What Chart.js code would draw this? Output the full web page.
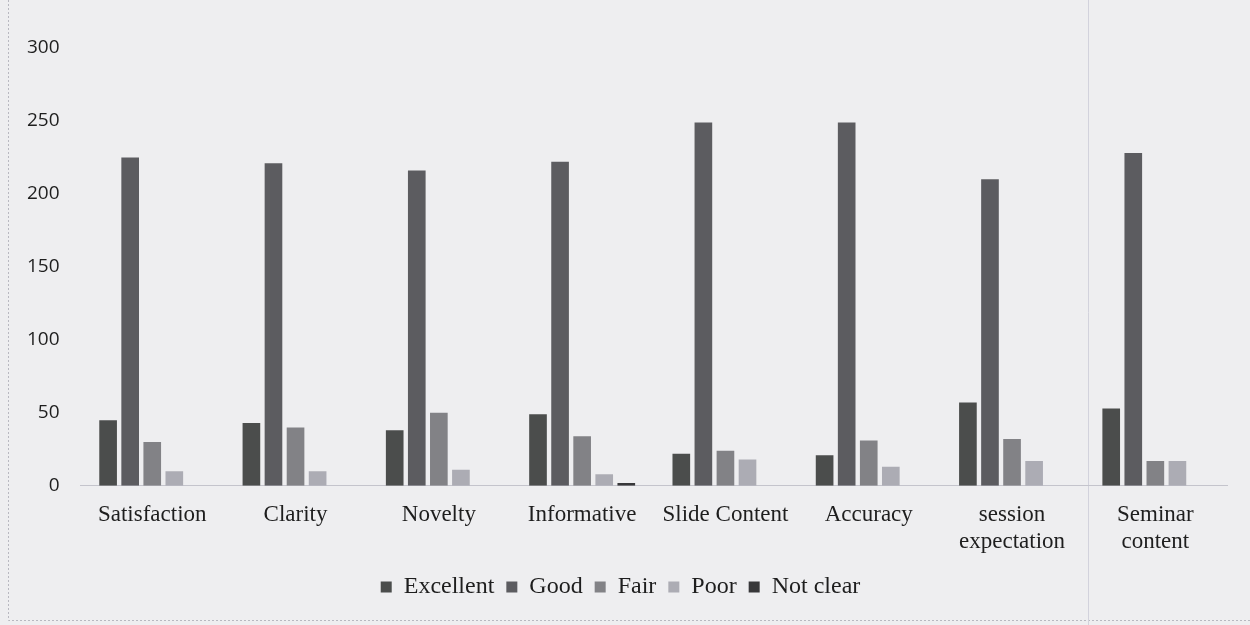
<!DOCTYPE html>
<html>
<head>
<meta charset="utf-8">
<script src="https://cdn.jsdelivr.net/npm/chart.js@4.4.1/dist/chart.umd.min.js"></script>
<style>
  html, body { margin: 0; padding: 0; background: #eeeef0; }
  #wrap { width: 1250px; height: 625px; }
</style>
</head>
<body>
<div id="wrap"><canvas id="chart" width="1250" height="625"></canvas></div>
<script>
  // Categories and series
  const categories = [
    "Satisfaction", "Clarity", "Novelty", "Informative", "Slide Content",
    "Accuracy", ["session", "expectation"], ["Seminar", "content"]
  ];
  const excellent = [45, 43, 38, 49, 22, 21, 57, 53];
  const good      = [225, 221, 216, 222, 249, 249, 210, 228];
  const fair      = [30, 40, 50, 34, 24, 31, 32, 17];
  const poor      = [10, 10, 11, 8, 18, 13, 17, 17];
  const notClear  = [0, 0, 0, 2, 0, 0, 0, 0];
  const yTicks    = [0, 50, 100, 150, 200, 250, 300];

  const paper = {
    id: "paper",
    beforeDraw(chart) {
      const { ctx, width, height } = chart;
      ctx.save();
      ctx.fillStyle = "#eeeef0";
      ctx.fillRect(0, 0, width, height);
      // faint dotted frame of the scanned figure
      ctx.strokeStyle = "#b8b8c0";
      ctx.setLineDash([2, 2]);
      ctx.lineWidth = 1;
      ctx.beginPath();
      ctx.moveTo(8.5, 0);
      ctx.lineTo(8.5, 620.5);
      ctx.lineTo(width, 620.5);
      ctx.stroke();
      ctx.setLineDash([]);
      ctx.strokeStyle = "#d2d2dc";
      ctx.beginPath();
      ctx.moveTo(1088.5, 0);
      ctx.lineTo(1088.5, height);
      ctx.stroke();
      ctx.restore();
    }
  };

  const serif = "'Liberation Serif', 'DejaVu Serif', serif";

  new Chart(document.getElementById("chart"), {
    type: "bar",
    data: {
      labels: categories,
      datasets: [
        { label: "Excellent", data: excellent, backgroundColor: "#4b4d4c" },
        { label: "Good",      data: good,      backgroundColor: "#5c5c60" },
        { label: "Fair",      data: fair,      backgroundColor: "#828286" },
        { label: "Poor",      data: poor,      backgroundColor: "#acacb4" },
        { label: "Not clear", data: notClear,  backgroundColor: "#38383a" }
      ]
    },
    options: {
      responsive: false,
      animation: false,
      devicePixelRatio: 1,
      layout: { padding: { left: 14, right: 23, top: 48, bottom: 16 } },
      datasets: { bar: { categoryPercentage: 0.77, barPercentage: 0.8 } },
      scales: {
        x: {
          grid: { display: false },
          border: { color: "#c4c4cc", dash: [3, 2] },
          ticks: {
            color: "#1e1e1e",
            font: { family: serif, size: 23 },
            maxRotation: 0,
            autoSkip: false,
            padding: 7
          }
        },
        y: {
          min: 0,
          max: 300,
          afterBuildTicks: (axis) => { axis.ticks = yTicks.map(v => ({ value: v })); },
          grid: { display: false },
          border: { display: false },
          ticks: {
            color: "#1e1e1e",
            font: { family: "'Open Sans', 'Liberation Sans', sans-serif", size: 19 },
            padding: 13
          }
        }
      },
      plugins: {
        tooltip: { enabled: false },
        legend: {
          position: "bottom",
          labels: {
            color: "#1e1e1e",
            font: { family: serif, size: 24 },
            boxWidth: 11,
            boxHeight: 11,
            padding: 12
          }
        }
      }
    },
    plugins: [paper]
  });
</script>
</body>
</html>
